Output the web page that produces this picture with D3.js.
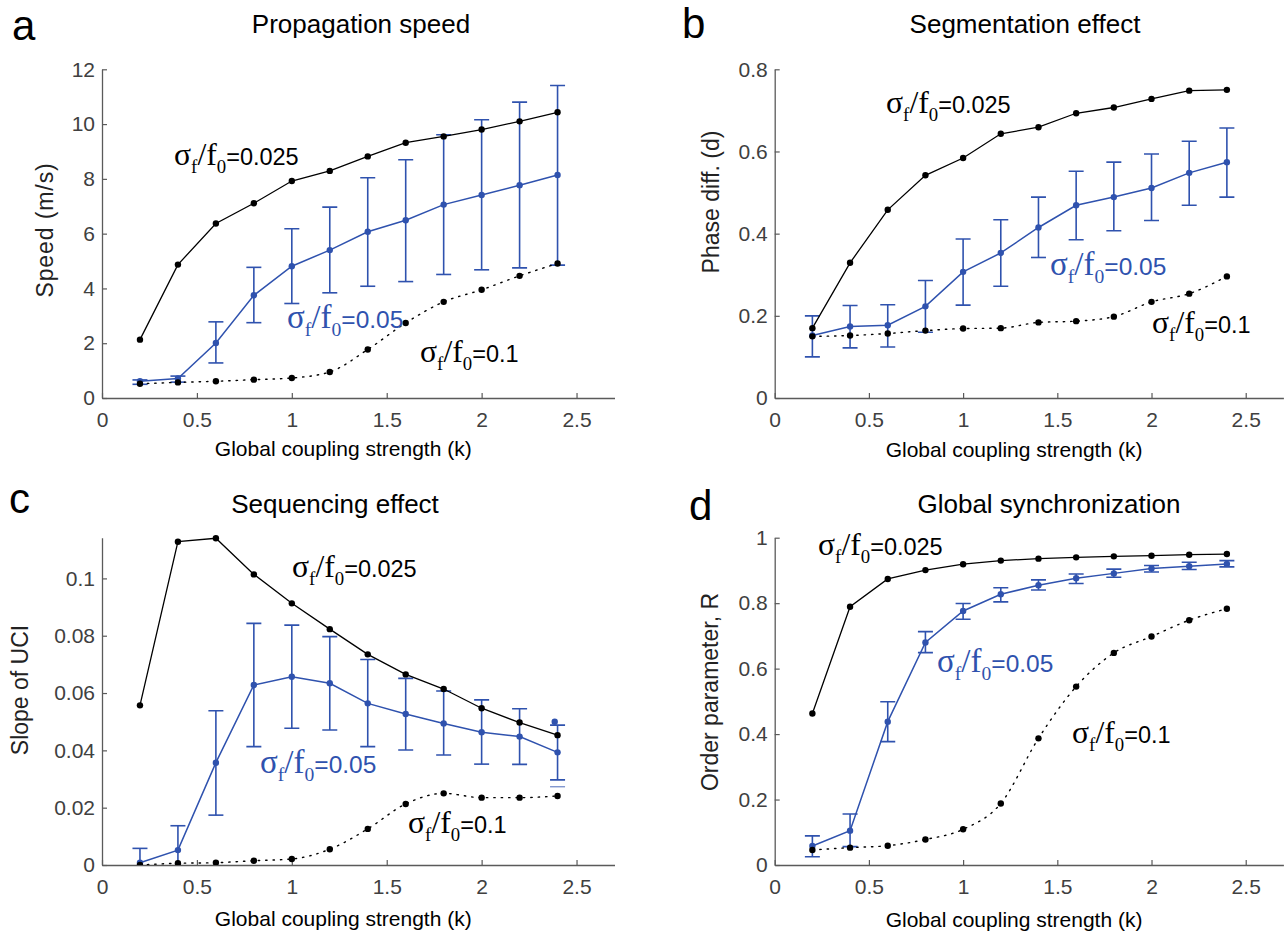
<!DOCTYPE html>
<html><head><meta charset="utf-8">
<script src="https://cdn.jsdelivr.net/npm/d3@7/dist/d3.min.js"></script>
<style>
body{margin:0;background:#fff;}
svg{display:block;font-family:"Liberation Sans",Arial,sans-serif;}
</style></head>
<body><svg id="chart" width="1288" height="936"></svg>
<script>
// ---------- data ----------
const kValues = [0.2,0.4,0.6,0.8,1.0,1.2,1.4,1.6,1.8,2.0,2.2,2.4];
const xTicks = [0,0.5,1,1.5,2,2.5];
const xTickLabels = ["0","0.5","1","1.5","2","2.5"];

// a: propagation speed
const speed025 = [2.13,4.87,6.37,7.11,7.92,8.29,8.82,9.32,9.55,9.80,10.10,10.43];
const speed05  = [0.61,0.71,2.01,3.75,4.81,5.40,6.07,6.49,7.06,7.41,7.77,8.14];
const speed05Hi= [0.66,0.80,2.78,4.77,6.18,6.97,8.04,8.70,9.61,10.16,10.80,11.41];
const speed05Lo= [0.50,0.58,1.28,2.75,3.45,3.84,4.08,4.25,4.51,4.68,4.75,4.85];
const speed1   = [0.52,0.57,0.61,0.67,0.73,0.95,1.77,2.74,3.51,3.95,4.46,4.91];
const speedTicks = [0,2,4,6,8,10,12];
const speedTickLabels = ["0","2","4","6","8","10","12"];

// b: segmentation effect
const phase025 = [0.170,0.329,0.458,0.542,0.584,0.643,0.659,0.693,0.707,0.728,0.748,0.750];
const phase05  = [0.152,0.174,0.177,0.223,0.307,0.353,0.415,0.469,0.489,0.511,0.548,0.574];
const phase05Hi= [0.200,0.225,0.227,0.286,0.387,0.434,0.489,0.552,0.574,0.594,0.625,0.657];
const phase05Lo= [0.100,0.122,0.124,0.160,0.226,0.272,0.342,0.385,0.407,0.432,0.469,0.489];
const phase1   = [0.150,0.152,0.157,0.164,0.169,0.170,0.184,0.187,0.198,0.234,0.254,0.296];
const phaseTicks = [0,0.2,0.4,0.6,0.8];
const phaseTickLabels = ["0","0.2","0.4","0.6","0.8"];

// c: sequencing effect
const slope025 = [0.0557,0.1128,0.1140,0.1014,0.0913,0.0823,0.0735,0.0665,0.0614,0.0547,0.0497,0.0453];
const slope05  = [0.0008,0.0052,0.0357,0.0628,0.0657,0.0634,0.0564,0.0527,0.0494,0.0463,0.0448,0.0393];
const slope05Hi= [0.0058,0.0137,0.0538,0.0843,0.0837,0.0797,0.0717,0.0651,0.0607,0.0576,0.0545,0.0488];
const slope05Lo= [-0.004,-0.003,0.0174,0.0413,0.0477,0.0471,0.0413,0.0401,0.0384,0.0352,0.0351,0.0297];
const slope1   = [0.0000,0.0006,0.0008,0.0015,0.0021,0.0055,0.0126,0.0213,0.0250,0.0235,0.0235,0.0241];
const slopeExtraK = [2.385];
const slopeExtraDot = [0.0500];
const slopeExtraCap = [0.0273];
const slopeTicks = [0,0.02,0.04,0.06,0.08,0.1];
const slopeTickLabels = ["0","0.02","0.04","0.06","0.08","0.1"];

// d: global synchronization
const order025 = [0.463,0.789,0.874,0.901,0.919,0.930,0.936,0.940,0.943,0.945,0.948,0.950];
const order05  = [0.058,0.105,0.438,0.680,0.776,0.827,0.855,0.876,0.891,0.906,0.913,0.920];
const order05Hi= [0.089,0.156,0.499,0.713,0.799,0.847,0.871,0.889,0.904,0.915,0.925,0.930];
const order05Lo= [0.025,0.056,0.377,0.649,0.751,0.804,0.840,0.860,0.879,0.895,0.903,0.911];
const order1   = [0.046,0.053,0.059,0.078,0.109,0.188,0.387,0.545,0.648,0.698,0.748,0.783];
const orderTicks = [0,0.2,0.4,0.6,0.8,1];
const orderTickLabels = ["0","0.2","0.4","0.6","0.8","1"];

const seriesNames = ["0.025","0.05","0.1"];

// ---------- drawing ----------
const BLUE = "#2f52ae";
const AXIS = "#5a5a5a";
const TICKTXT = "#404040";
const svg = d3.select("#chart");

const panels = [
  {letter:"a", lx:12, ly:40, title:"Propagation speed", tx:361, ty:33, ylabel:"Speed (m/s)", ylx:45, yly:230, ls:0.9,
   xr:[102,614.5], yr:[398,69.3], ymax:12, ticks:speedTicks, tlabels:speedTickLabels,
   s1:speed025, s2:speed05, hi:speed05Hi, lo:speed05Lo, s3:speed1, xly:456,
   ann:[[174,165],[287,328],[420,362]]},
  {letter:"b", lx:682, ly:38, title:"Segmentation effect", tx:1025, ty:33, ylabel:"Phase diff. (d)", ylx:711, yly:202, ls:0,
   xr:[774.7,1283.4], yr:[398,69.3], ymax:0.8, ticks:phaseTicks, tlabels:phaseTickLabels,
   s1:phase025, s2:phase05, hi:phase05Hi, lo:phase05Lo, s3:phase1, xly:457,
   ann:[[886,113],[1050,275],[1152,333]]},
  {letter:"c", lx:9, ly:513, title:"Sequencing effect", tx:335, ty:513, ylabel:"Slope of UCI", ylx:20, yly:690, ls:0,
   xr:[102,614.5], yr:[865,537.7], ymax:0.1142, ticks:slopeTicks, tlabels:slopeTickLabels,
   s1:slope025, s2:slope05, hi:slope05Hi, lo:slope05Lo, s3:slope1, xly:926,
   ann:[[292,577],[260,773],[408,833]], extra:true},
  {letter:"d", lx:689, ly:520, title:"Global synchronization", tx:1049, ty:513, ylabel:"Order parameter, R", ylx:710, yly:692, ls:0,
   xr:[774.7,1283.4], yr:[865,537.7], ymax:1, ticks:orderTicks, tlabels:orderTickLabels,
   s1:order025, s2:order05, hi:order05Hi, lo:order05Lo, s3:order1, xly:927,
   ann:[[818,555],[937,672],[1072,743]]}
];

function sigmaLabel(g, x, y, value, color, size){
  const serif = "'Liberation Serif','Times New Roman',serif";
  const S = size*1.35, sub = size*0.8, drop = size*0.33;
  const t = g.append("text").attr("x",x).attr("y",y).attr("fill",color).style("font-size",size+"px");
  t.append("tspan").style("font-family",serif).style("font-size",S+"px").text("σ");
  t.append("tspan").style("font-family",serif).style("font-size",sub+"px").attr("dy",drop).text("f");
  t.append("tspan").style("font-family",serif).style("font-size",S+"px").attr("dy",-drop).text("/f");
  t.append("tspan").style("font-family",serif).style("font-size",sub+"px").attr("dy",drop).text("0");
  t.append("tspan").attr("dy",-drop).text("="+value);
}

panels.forEach((p,pi)=>{
  const g = svg.append("g");
  const x = d3.scaleLinear().domain([0,2.7]).range(p.xr);
  const y = d3.scaleLinear().domain([0,p.ymax]).range(p.yr);

  // axes
  const xAxis = d3.axisBottom(x).tickValues(xTicks).tickFormat((d,i)=>xTickLabels[i])
      .tickSizeInner(-5).tickSizeOuter(0).tickPadding(14);
  const yAxis = d3.axisLeft(y).tickValues(p.ticks).tickFormat((d,i)=>p.tlabels[i])
      .tickSizeInner(-5).tickSizeOuter(0).tickPadding(7);
  const gx = g.append("g").attr("transform",`translate(0,${p.yr[0]})`).call(xAxis);
  const gy = g.append("g").attr("transform",`translate(${p.xr[0]},0)`).call(yAxis);
  [gx,gy].forEach(a=>{
    a.select(".domain").attr("stroke",AXIS).attr("stroke-width",1.3);
    a.selectAll(".tick line").attr("stroke",AXIS).attr("stroke-width",1.2);
    a.selectAll(".tick text").attr("fill",TICKTXT).style("font-size","21px")
      .style("font-family","'Liberation Sans',Arial,sans-serif");
  });

  // clip
  const cid = "clip"+pi;
  g.append("clipPath").attr("id",cid).append("rect")
    .attr("x",p.xr[0]-10).attr("y",p.yr[1]-20).attr("width",p.xr[1]-p.xr[0]+20).attr("height",p.yr[0]-p.yr[1]+20);
  const plot = g.append("g").attr("clip-path",`url(#${cid})`);

  // blue series with error bars
  const line = d3.line().x((d,i)=>x(kValues[i])).y(d=>y(d));
  plot.append("path").datum(p.s2).attr("d",line).attr("fill","none").attr("stroke",BLUE).attr("stroke-width",1.5);
  const eb = plot.append("g").attr("stroke",BLUE).attr("stroke-width",1.6);
  kValues.forEach((k,i)=>{
    const cx = x(k), half=7.5;
    eb.append("line").attr("x1",cx).attr("x2",cx).attr("y1",y(p.hi[i])).attr("y2",y(p.lo[i]));
    eb.append("line").attr("x1",cx-half).attr("x2",cx+half).attr("y1",y(p.hi[i])).attr("y2",y(p.hi[i]));
    eb.append("line").attr("x1",cx-half).attr("x2",cx+half).attr("y1",y(p.lo[i])).attr("y2",y(p.lo[i]));
  });
  plot.append("g").selectAll("circle").data(p.s2).join("circle")
    .attr("cx",(d,i)=>x(kValues[i])).attr("cy",d=>y(d)).attr("r",3.2).attr("fill",BLUE);

  if(p.extra){
    slopeExtraK.forEach((k,i)=>{
      plot.append("circle").attr("cx",x(k)).attr("cy",y(slopeExtraDot[i])).attr("r",3.2).attr("fill",BLUE);
      plot.append("line").attr("x1",x(2.4)-7.5).attr("x2",x(2.4)+7.5)
        .attr("y1",y(slopeExtraCap[i])).attr("y2",y(slopeExtraCap[i])).attr("stroke",BLUE).attr("stroke-width",1.2).attr("opacity",0.7);
    });
  }

  // dotted black (0.1)
  const smooth = d3.line().x((d,i)=>x(kValues[i])).y(d=>y(d)).curve(d3.curveMonotoneX);
  plot.append("path").datum(p.s3).attr("d",smooth).attr("fill","none").attr("stroke","#000")
    .attr("stroke-width",1.4).attr("stroke-dasharray","1.4,6").attr("stroke-linecap","round");
  plot.append("g").selectAll("circle").data(p.s3).join("circle")
    .attr("cx",(d,i)=>x(kValues[i])).attr("cy",d=>y(d)).attr("r",3.2).attr("fill","#000");

  // solid black (0.025)
  plot.append("path").datum(p.s1).attr("d",line).attr("fill","none").attr("stroke","#000").attr("stroke-width",1.3);
  plot.append("g").selectAll("circle").data(p.s1).join("circle")
    .attr("cx",(d,i)=>x(kValues[i])).attr("cy",d=>y(d)).attr("r",3.2).attr("fill","#000");

  // titles and labels
  g.append("text").attr("x",p.lx).attr("y",p.ly).text(p.letter).style("font-size","42px").attr("fill","#000");
  g.append("text").attr("x",p.tx).attr("y",p.ty).attr("text-anchor","middle").text(p.title)
    .style("font-size","26px").attr("fill","#000");
  g.append("text").attr("transform",`translate(${p.ylx},${p.yly}) rotate(-90)`).attr("text-anchor","middle")
    .attr("dominant-baseline","central").text(p.ylabel).style("font-size","23px")
    .style("letter-spacing",p.ls+"px").attr("fill","#222");
  g.append("text").attr("x",(p.xr[0]+p.xr[1])/2 - 15).attr("y",p.xly).attr("text-anchor","middle")
    .text("Global coupling strength (k)").style("font-size","21px").attr("fill","#000");

  // annotations
  sigmaLabel(g,p.ann[0][0],p.ann[0][1],seriesNames[0],"#000",23.5);
  sigmaLabel(g,p.ann[1][0],p.ann[1][1],seriesNames[1],BLUE,24.5);
  sigmaLabel(g,p.ann[2][0],p.ann[2][1],seriesNames[2],"#000",23.5);
});
</script></body></html>
